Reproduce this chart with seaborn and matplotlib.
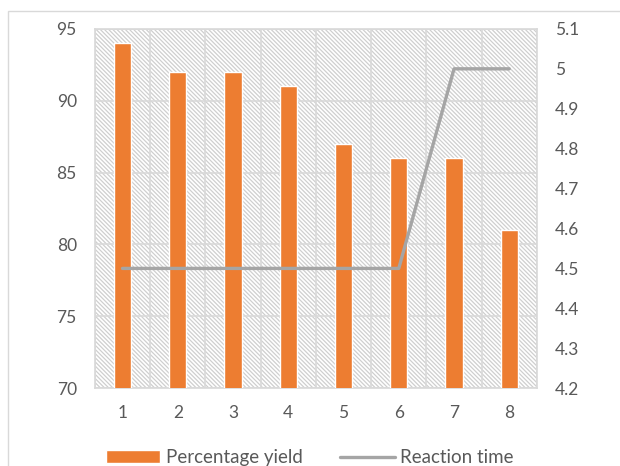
import numpy as np
import pandas as pd
import seaborn as sns
import matplotlib.pyplot as plt
from matplotlib.patches import Rectangle
from matplotlib.lines import Line2D
from matplotlib.ticker import FuncFormatter, FixedLocator

# data
runs = ["1", "2", "3", "4", "5", "6", "7", "8"]
yield_pct = [94, 92, 92, 91, 87, 86, 86, 81]
reaction_time = [4.5, 4.5, 4.5, 4.5, 4.5, 4.5, 5.0, 5.0]

df = pd.DataFrame({"run": runs, "yield": yield_pct, "time": reaction_time})
df["pos"] = np.arange(len(runs))

sns.set_theme(style="white")
plt.rcParams["font.family"] = ["Lato", "DejaVu Sans"]
plt.rcParams["hatch.linewidth"] = 0.9

orange = "#ED7D31"
grey_line = "#A5A5A5"
grid_c = "#D9D9D9"
text_c = "#595959"
fs = 12.5

fig = plt.figure(figsize=(6.2, 4.66), dpi=100)
ax = fig.add_axes([0.153, 0.167, 0.713, 0.771])

# chart border (partially off the canvas, like the screenshot)
fig.patches.append(Rectangle((8 / 620, -0.05), 1.2, 1.05 - 11 / 466,
                             transform=fig.transFigure, fill=False,
                             edgecolor=grid_c, linewidth=1.0))

# hatched plot background
ax.add_patch(Rectangle((0, 0), 1, 1, transform=ax.transAxes, facecolor="white",
                       edgecolor="#CFCFCF", hatch="\\" * 8, linewidth=0, zorder=0))

sns.barplot(data=df, x="run", y="yield", color=orange, width=0.31,
            saturation=1, ax=ax, zorder=3)
ax.set_ylim(70, 95)
ax.set_yticks(range(70, 96, 5))
ax.set_xlim(-0.5, len(runs) - 0.5)
ax.set_xlabel("")
ax.set_ylabel("")

# gridlines at category boundaries and y ticks
ax.xaxis.set_minor_locator(FixedLocator(np.arange(-0.5, len(runs), 1)))
ax.grid(True, which="minor", axis="x", color=grid_c, linewidth=1.2, zorder=1)
ax.grid(True, which="major", axis="y", color=grid_c, linewidth=1.2, zorder=1)
ax.set_axisbelow(True)
ax.tick_params(axis="x", which="major", length=0, labelsize=fs, labelcolor=text_c, pad=12)
ax.tick_params(axis="x", which="minor", length=5, color=grid_c, width=1)
ax.tick_params(axis="y", length=0, labelsize=fs, labelcolor=text_c, pad=13)
for s in ax.spines.values():
    s.set_color(grid_c)

ax2 = ax.twinx()
sns.lineplot(data=df, x="pos", y="time", color=grey_line, linewidth=2.4, ax=ax2,
             zorder=4)
ax2.set_ylim(4.2, 5.1)
ax2.set_yticks(np.round(np.arange(4.2, 5.11, 0.1), 1))
ax2.yaxis.set_major_formatter(FuncFormatter(lambda v, p: f"{v:g}"))
ax2.tick_params(axis="y", length=0, labelsize=fs, labelcolor=text_c, pad=13)
ax2.set_ylabel("")
ax2.set_xlabel("")
ax2.grid(False)
for s in ax2.spines.values():
    s.set_visible(False)
ax2.set_xlim(-0.5, len(runs) - 0.5)

handles = [Rectangle((0, 0), 1, 1, facecolor=orange),
           Line2D([0], [0], color=grey_line, linewidth=2.4)]
leg = fig.legend(handles, ["Percentage yield", "Reaction time"], loc="center",
                 bbox_to_anchor=(0.5, 0.018), ncol=2, frameon=False,
                 fontsize=13.5, handlelength=2.9, columnspacing=2.0,
                 handletextpad=0.3)
for t in leg.get_texts():
    t.set_color(text_c)

fig.savefig("out.png", dpi=100)
